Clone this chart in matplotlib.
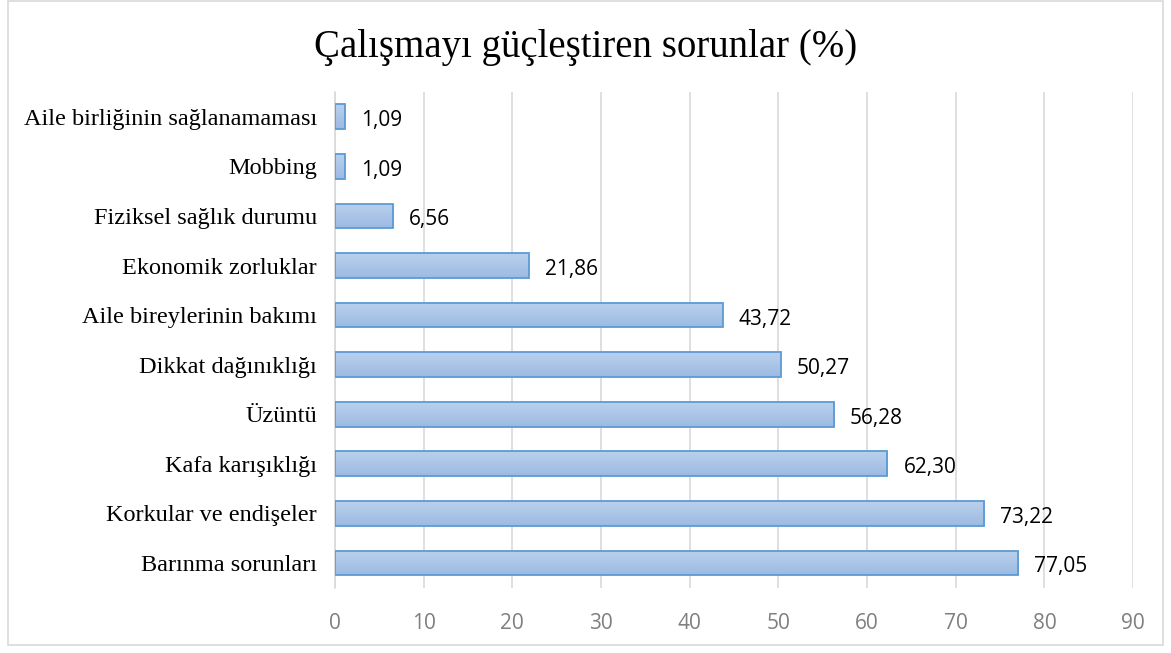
import matplotlib.pyplot as plt
import numpy as np
from matplotlib.patches import Rectangle
from matplotlib.colors import LinearSegmentedColormap

categories = [
    "Barınma sorunları", "Korkular ve endişeler", "Kafa karışıklığı", "Üzüntü",
    "Dikkat dağınıklığı", "Aile bireylerinin bakımı", "Ekonomik zorluklar",
    "Fiziksel sağlık durumu", "Mobbing", "Aile birliğinin sağlanamaması",
]
values = [77.05, 73.22, 62.30, 56.28, 50.27, 43.72, 21.86, 6.56, 1.09, 1.09]
xticks = [0, 10, 20, 30, 40, 50, 60, 70, 80, 90]

fig = plt.figure(figsize=(11.71, 6.53), dpi=100)
ax = fig.add_axes([0.2861, 0.100, 0.6815, 0.759])

y = np.arange(len(categories))
bars = ax.barh(y, values, height=0.5, color="none", edgecolor="#5b9bd5", linewidth=1.3, zorder=3)

# vertical gradient inside every bar (light on top, darker at the bottom)
grad = np.linspace(0, 1, 100).reshape(-1, 1)
cmap = LinearSegmentedColormap.from_list("g", ["#9cbae2", "#bad1ed"])
for b in bars:
    x0, y0 = b.get_x(), b.get_y()
    w, h = b.get_width(), b.get_height()
    im = ax.imshow(grad, cmap=cmap, aspect="auto", extent=(x0, x0 + w, y0, y0 + h),
                   origin="lower", zorder=2)
    im.set_clip_path(b)
    b.set_zorder(4)

for yi, v in zip(y, values):
    ax.text(v + 1.8, yi - 0.08, f"{v:.2f}".replace(".", ","), va="center", ha="left",
            fontsize=15, family="Open Sans", color="black")

ax.set_xlim(0, 90)
ax.set_ylim(-0.5, 9.5)
ax.set_xticks(xticks)
ax.set_xticklabels([str(t) for t in xticks], fontsize=15, color="#7f7f7f", family="Open Sans")
ax.set_yticks(y)
ax.set_yticklabels(categories, fontsize=17.5, family="Liberation Serif")
ax.tick_params(axis="both", length=0)
ax.tick_params(axis="x", pad=18)
ax.tick_params(axis="y", pad=13)
ax.grid(axis="x", color="#d9d9d9", linewidth=1.2, zorder=0)
ax.set_axisbelow(True)
for s in ["top", "right", "bottom"]:
    ax.spines[s].set_visible(False)
ax.spines["left"].set_color("#d9d9d9")
ax.spines["left"].set_linewidth(1.2)

fig.text(0.5, 0.928, "Çalışmayı güçleştiren sorunlar (%)", ha="center", va="center",
         fontsize=28, family="Liberation Serif")

fig.patches.append(Rectangle((8 / 1171, 8 / 653), 1155 / 1171, 644 / 653, transform=fig.transFigure,
                             fill=False, edgecolor="#d9d9d9", linewidth=1.2))

fig.savefig("out.png", dpi=100)
